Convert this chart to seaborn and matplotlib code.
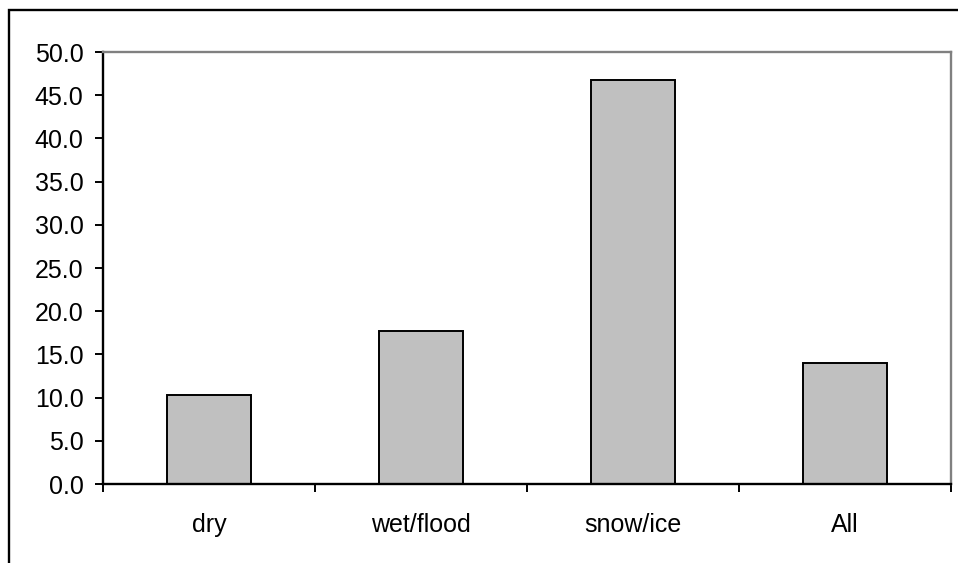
import matplotlib
matplotlib.use("Agg")
import matplotlib.pyplot as plt
import seaborn as sns
from matplotlib.patches import Rectangle

# data
categories = ["dry", "wet/flood", "snow/ice", "All"]
values = [10.3, 17.7, 46.8, 14.0]
y_ticks = [0, 5, 10, 15, 20, 25, 30, 35, 40, 45, 50]

sns.set_style("white")
plt.rcParams['font.family'] = ['Liberation Sans', 'DejaVu Sans']
plt.rcParams['text.color'] = 'black'
plt.rcParams['xtick.color'] = 'black'
plt.rcParams['ytick.color'] = 'black'

fig = plt.figure(figsize=(9.58, 5.63), dpi=100)
ax = fig.add_axes([103/958, 1 - 484/563, (951 - 103)/958, (484 - 52)/563])

sns.barplot(x=categories, y=values, color="#C0C0C0", saturation=1,
            edgecolor="black", linewidth=1.4, width=0.4, ax=ax)

ax.set_ylim(0, 50)
ax.set_xlim(-0.5, len(categories) - 0.5)
ax.set_yticks(y_ticks)
ax.set_yticklabels([f"{v:.1f}" for v in y_ticks])

# category boundary ticks (major), labels on minor ticks
ax.set_xticks([i - 0.5 for i in range(len(categories) + 1)])
ax.set_xticklabels([])
ax.set_xticks(range(len(categories)), minor=True)
ax.set_xticklabels(categories, minor=True)
ax.tick_params(axis="x", which="major", direction="out", length=6, width=1.4, color="black", bottom=True)
ax.tick_params(axis="x", which="minor", length=0, pad=21, labelsize=18, labelcolor="black")
ax.tick_params(axis="y", direction="out", length=6, width=1.4, color="black", left=True, pad=8,
               labelsize=18, labelcolor="black")

for s in ["left", "bottom"]:
    ax.spines[s].set_color("black")
    ax.spines[s].set_linewidth(1.7)
for s in ["top", "right"]:
    ax.spines[s].set_visible(True)
    ax.spines[s].set_color("#808080")
    ax.spines[s].set_linewidth(1.7)
ax.set_xlabel("")
ax.set_ylabel("")

# outer chart frame (clipped at the right and bottom edges)
fig.patches.append(Rectangle((9/958, -0.2), 1.2, 1 - 10/563 + 0.2, transform=fig.transFigure,
                             fill=False, edgecolor="black", linewidth=1.7))

fig.savefig("out.png", dpi=100)
